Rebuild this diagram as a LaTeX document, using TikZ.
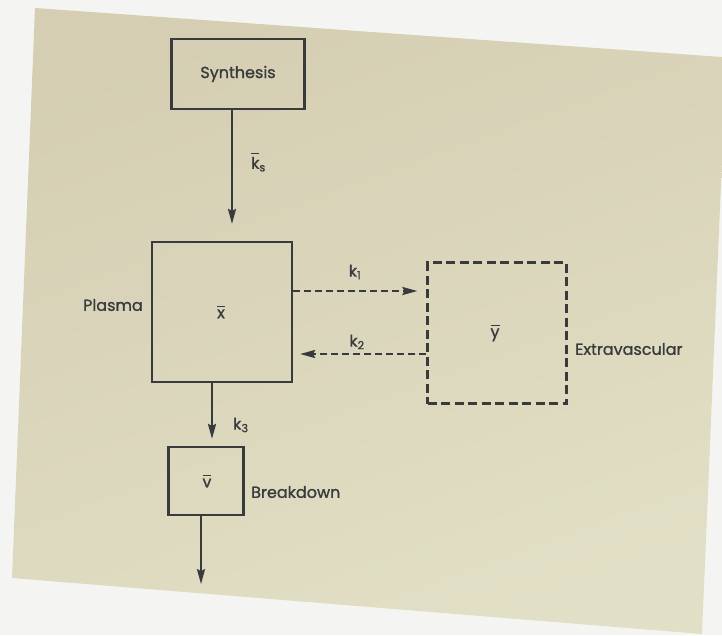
\documentclass[tikz,border=0pt]{standalone}
\usepackage{fontspec}
\setmainfont{Poppins}
\newfontfamily\lblfont{Poppins}[FakeBold=1]
\usetikzlibrary{arrows.meta,calc}
\definecolor{papertan}{RGB}{213,206,179}
\definecolor{paperpale}{RGB}{225,223,197}
\definecolor{margin}{RGB}{244,245,242}
\definecolor{ink}{RGB}{56,58,60}
\newcommand{\ovl}[1]{$\overline{\mbox{\raisebox{0pt}[1.2\height]{#1}}}$}
\tikzset{
  solidbox/.style={draw=ink, line width=2.2pt, inner sep=0pt},
  dashbox/.style={draw=ink, line width=2.2pt, inner sep=0pt, dash pattern=on 9pt off 4.5pt},
  lbl/.style={text=ink, font=\lblfont\fontsize{16}{18}\selectfont, inner sep=0pt},
  flow/.style={draw=ink, line width=2.2pt, -{Stealth[length=15pt,width=8pt,inset=2pt]}},
  dflow/.style={flow, dash pattern=on 7pt off 4pt},
}
\begin{document}
\begin{tikzpicture}[x=1pt,y=-1pt]
\useasboundingbox (0,0) rectangle (722,635);
\fill[margin] (0,0) rectangle (722,635);
\shade[top color=papertan, bottom color=paperpale, shading angle=20]
  (35,8) -- (722,57) -- (722,160) -- (702,634) -- (12,578) -- cycle;

% boxes
\node[solidbox, minimum width=133pt, minimum height=70pt] (syn) at (238,74) {};
\node[lbl] (syntxt) at (syn.center) {Synthesis};
\node[solidbox, minimum width=140pt, minimum height=140pt] (plasma) at (222,312) {};
\node[dashbox, minimum width=139pt, minimum height=141pt] (extra) at (497,333) {};
\node[solidbox, minimum width=75pt, minimum height=68pt] (brk) at (206,481) {};

% inner variables
\node[lbl] (xv) at (221,312) {\ovl{x}};
\node[lbl] (yv) at (495,333) {\ovl{y}};
\node[lbl] (vv) at (207,481) {\ovl{v}};

% outer labels
\node[lbl, anchor=east] (lplasma) at (143,305) {Plasma};
\node[lbl, anchor=west] (lextra) at (575,349) {Extravascular};
\node[lbl, anchor=west] (lbrk) at (251,492) {Breakdown};

% connectors
\coordinate (ksend) at ($(plasma.north)+(10,-17)$);
\draw[flow] (syn.south -| ksend) -- (ksend);
\node[lbl, anchor=west] (ks) at (251,162) {\ovl{k}\textsubscript{s}};

\coordinate (k1end) at ($(extra.west)+(-9,-42)$);
\draw[dflow] (plasma.east |- k1end) -- (k1end);
\node[lbl] (k1) at (355,272) {k\textsubscript{1}};

\coordinate (k2end) at ($(plasma.east)+(7,42)$);
\draw[dflow] (extra.west |- k2end) -- (k2end);
\node[lbl] (k2) at (357,342) {k\textsubscript{2}};

\coordinate (k3end) at ($(brk.north)+(6,-7)$);
\draw[flow] (plasma.south -| k3end) -- (k3end);
\node[lbl, anchor=west] (k3) at (233,425) {k\textsubscript{3}};

\coordinate (outend) at ($(brk.south)+(-5,68)$);
\draw[flow] (brk.south -| outend) -- (outend);
\end{tikzpicture}
\end{document}
